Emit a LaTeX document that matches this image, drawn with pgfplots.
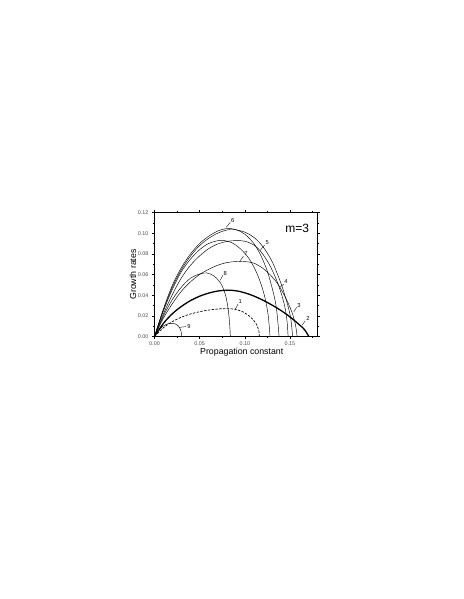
\documentclass[border=0pt]{standalone}
\usepackage{pgfplots}
\pgfplotsset{compat=1.18}
\usepackage{fontspec}
\setmainfont{Liberation Sans}

\begin{document}
\begin{tikzpicture}[x=1pt,y=1pt]
% page frame: the chart sits small in the middle of a 463x599 sheet
\path[use as bounding box] (0,0) rectangle (463,599);
\begin{axis}[
  at={(154.5pt,262.5pt)}, anchor=south west,
  width=162.5pt, height=124pt, scale only axis,
  xmin=0, xmax=0.18, ymin=0, ymax=0.12,
  xtick={0,0.05,0.10,0.15}, minor xtick={0.025,0.075,0.125,0.175},
  ytick={0,0.02,0.04,0.06,0.08,0.10,0.12},
  minor ytick={0.01,0.03,0.05,0.07,0.09,0.11},
  scaled ticks=false,
  tick align=outside, major tick length=2.5pt, minor tick length=1.5pt,
  tick style={black, line width=0.4pt},
  axis line style={line width=0.6pt},
  /pgf/number format/assume math mode=true,
  /pgf/number format/.cd, fixed, fixed zerofill, precision=2, /pgfplots/.cd,
  ticklabel style={font=\fontsize{5.4}{6}\selectfont, text=black!70},
  xticklabel style={yshift=0.5pt},
  xlabel={Propagation constant}, ylabel={Growth rates},
  label style={font=\fontsize{8.8}{10}\selectfont},
  xlabel style={yshift=5pt, xshift=6pt},
  ylabel style={yshift=-5pt},
  curve/.style={black, line width=0.45pt, mark=none, smooth, tension=0.55},
  clip=false,
]
% curve 9
\addplot[curve] coordinates {(0,0) (0.005,0.0062) (0.01,0.0103) (0.015,0.0123) (0.019,0.0128)
  (0.023,0.0122) (0.026,0.0105) (0.028,0.0082) (0.0295,0.005) (0.030,0)};
% curve 8
\addplot[curve] coordinates {(0,0) (0.01,0.020) (0.02,0.036) (0.03,0.048) (0.04,0.0565)
  (0.05,0.0605) (0.058,0.0615) (0.066,0.0585) (0.073,0.052) (0.078,0.042)
  (0.081,0.030) (0.083,0.015) (0.084,0)};
% curve 1 (dashed)
\addplot[curve, dash pattern=on 2.4pt off 1.4pt, line width=0.7pt] coordinates {(0,0) (0.01,0.0085)
  (0.02,0.0145) (0.03,0.0188) (0.04,0.0218) (0.05,0.024) (0.06,0.0256) (0.07,0.0266)
  (0.08,0.027) (0.09,0.0262) (0.098,0.0238) (0.105,0.0198) (0.11,0.0155)
  (0.1135,0.0108) (0.1155,0.006) (0.116,0)};
% curve 2 (thick)
\addplot[curve, line width=1.3pt] coordinates {(0,0) (0.01,0.0128) (0.02,0.0222) (0.03,0.0292)
  (0.04,0.0348) (0.05,0.039) (0.06,0.042) (0.07,0.044) (0.08,0.0448) (0.09,0.0443)
  (0.10,0.0423) (0.11,0.0392) (0.12,0.0352) (0.13,0.0305) (0.14,0.0252) (0.15,0.019)
  (0.16,0.0117) (0.166,0.0068) (0.171,0)};
% curve 7
\addplot[curve] coordinates {(0,0) (0.01,0.018) (0.02,0.032) (0.03,0.044) (0.04,0.053)
  (0.05,0.060) (0.06,0.065) (0.07,0.069) (0.08,0.0715) (0.09,0.0725) (0.10,0.0725)
  (0.11,0.071) (0.12,0.066) (0.13,0.058) (0.138,0.049) (0.146,0.036) (0.152,0.024)
  (0.156,0.012) (0.158,0)};
% unlabelled curve, peak near 0.093 on the left
\addplot[curve] coordinates {(0,0) (0.01,0.025) (0.02,0.046) (0.03,0.063) (0.04,0.075)
  (0.05,0.084) (0.06,0.090) (0.073,0.093) (0.085,0.091) (0.095,0.085) (0.105,0.075)
  (0.113,0.062) (0.119,0.048) (0.123,0.035) (0.126,0.02) (0.128,0)};
% curve 5
\addplot[curve] coordinates {(0,0) (0.01,0.022) (0.02,0.041) (0.03,0.057) (0.04,0.069)
  (0.05,0.078) (0.06,0.085) (0.07,0.0895) (0.08,0.092) (0.09,0.0928) (0.10,0.0922)
  (0.11,0.0885) (0.118,0.082) (0.127,0.070) (0.135,0.055) (0.141,0.040) (0.145,0.026)
  (0.147,0.013) (0.148,0)};
% curve 6
\addplot[curve] coordinates {(0,0) (0.01,0.027) (0.02,0.050) (0.03,0.067) (0.04,0.080)
  (0.05,0.090) (0.06,0.097) (0.07,0.102) (0.08,0.1045) (0.09,0.1035) (0.10,0.099)
  (0.11,0.090) (0.118,0.078) (0.125,0.063) (0.13,0.048) (0.134,0.033) (0.136,0.02)
  (0.138,0)};
% curve 4
\addplot[curve] coordinates {(0,0) (0.01,0.026) (0.02,0.048) (0.03,0.065) (0.04,0.078)
  (0.05,0.088) (0.06,0.095) (0.07,0.100) (0.08,0.103) (0.088,0.1035) (0.10,0.101)
  (0.11,0.096) (0.12,0.087) (0.13,0.073) (0.139,0.054) (0.144,0.041) (0.148,0.029)
  (0.151,0.017) (0.153,0)};

% curve labels with leader lines
\begin{scope}[font=\fontsize{5.8}{6}\selectfont, line width=0.35pt]
\draw (axis cs:0.0839,0.1104) -- (axis cs:0.0794,0.1056);
\node at (axis cs:0.0866,0.1125) {6};
\draw (axis cs:0.122,0.0886) -- (axis cs:0.117,0.0832);
\node at (axis cs:0.1250,0.0910) {5};
\draw (axis cs:0.0987,0.0780) -- (axis cs:0.0943,0.0726);
\node at (axis cs:0.1013,0.0802) {7};
\draw (axis cs:0.0757,0.0592) -- (axis cs:0.0728,0.0544);
\node at (axis cs:0.0783,0.0614) {8};
\draw (axis cs:0.1431,0.0506) -- (axis cs:0.1394,0.048);
\node at (axis cs:0.1457,0.0528) {4};
\draw (axis cs:0.1575,0.0283) -- (axis cs:0.1543,0.0239);
\node at (axis cs:0.1600,0.0304) {3};
\draw (axis cs:0.1670,0.0152) -- (axis cs:0.1635,0.0111);
\node at (axis cs:0.1700,0.0175) {2};
\draw (axis cs:0.0925,0.0315) -- (axis cs:0.0894,0.0262);
\node at (axis cs:0.0950,0.0336) {1};
\draw (axis cs:0.0350,0.0096) -- (axis cs:0.0276,0.0088);
\node at (axis cs:0.0383,0.0096) {9};
\end{scope}
\node at (axis cs:0.158,0.1046) {\fontsize{12}{14}\selectfont m=3};
\end{axis}
\end{tikzpicture}
\end{document}
